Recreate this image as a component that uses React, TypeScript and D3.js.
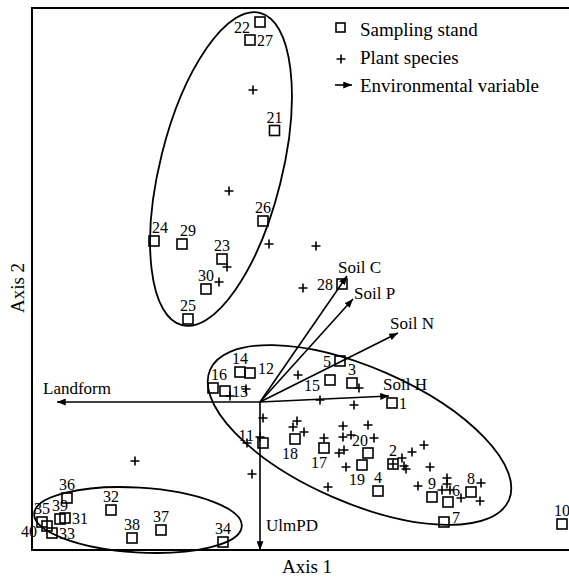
import React from 'react';
import * as d3 from 'd3';

// ---- data (CCA ordination scores) ----
const siteIds = [
  1, 2, 3, 4, 5, 6, 7, 8, 9, 10,
  11, 12, 13, 14, 15, 16, 17, 18, 19, 20,
  21, 22, 23, 24, 25, 26, 27, 28, 29, 30,
  31, 32, 33, 34, 35, 36, 37, 38, 39, 40,
];
const siteX = [
  1.32, 1.33, 0.92, 1.18, 0.80, 1.88, 1.84, 2.11, 1.72, 3.02,
  0.03, -0.10, -0.35, -0.20, 0.70, -0.47, 0.64, 0.35, 1.02, 1.08,
  0.145, 0.0, -0.38, -1.06, -0.72, 0.03, -0.10, 0.82, -0.78, -0.54,
  -1.95, -1.49, -2.08, -0.37, -2.18, -1.93, -0.99, -1.28, -2.0, -2.13,
];
const siteY = [
  -0.01, -0.62, 0.19, -0.89, 0.41, -1.0, -1.2, -0.9, -0.95, -1.22,
  -0.41, 0.29, 0.11, 0.30, 0.22, 0.14, -0.46, -0.37, -0.63, -0.51,
  2.715, 3.80, 1.43, 1.61, 0.83, 1.81, 3.62, 1.18, 1.58, 1.13,
  -1.16, -1.08, -1.31, -1.40, -1.20, -0.96, -1.28, -1.36, -1.17, -1.24,
];
const siteLabelSide = [
  'r', 'a', 'a', 'a', 'l', 'ur', 'rh', 'a', 'a', 'a',
  'ul', 'rh', 'r', 'a', 'bl', 'ar', 'b', 'b', 'b', 'al',
  'a', 'bl', 'a', 'ar', 'a', 'a', 'r', 'l', 'ar', 'a',
  'r', 'a', 'r', 'a', 'a', 'a', 'a', 'a', 'a', 'bl',
];

const speciesX = [
  -0.07, -0.31, 0.09, 0.56, -0.33, -0.41, 0.43,
  0.38, -0.14, -0.30, 0.99, 0.60, 0.94, 0.03, 0.37, 0.33, 0.44, 0.0, -0.13,
  0.64, 0.83, 0.83, 0.91, 1.08, 1.14, 0.84, 0.79, 0.86, -0.08, 0.68,
  1.33, 1.42, 1.46, 1.44, 1.52, 1.64, 1.70, 1.58, 1.87, 1.87, 1.82, 1.90,
  2.01, 2.21, 2.20, -1.25,
];
const speciesY = [
  3.12, 2.11, 1.58, 1.56, 1.35, 1.20, 1.14,
  0.27, 0.13, 0.06, 0.14, 0.02, -0.03, -0.16, -0.19, -0.25, -0.30, -0.35, -0.41,
  -0.36, -0.24, -0.35, -0.33, -0.23, -0.36, -0.48, -0.51, -0.65, -0.72, -0.85,
  -0.62, -0.56, -0.67, -0.64, -0.50, -0.43, -0.65, -0.84, -0.76, -0.82, -0.88, -0.88,
  -0.96, -0.81, -0.99, -0.59,
];

const envNames = ['Landform', 'UlmPD', 'Soil C', 'Soil P', 'Soil N', 'Soil H'];
const envX = [-2.03, 0, 0.87, 0.93, 1.38, 1.29];
const envY = [0, -1.48, 1.26, 1.03, 0.69, 0.06];

// group ellipses (centre, semi-axes in axis units, rotation in degrees, counter-clockwise)
const groupCX = [-0.39, 0.995, -1.22];
const groupCY = [2.33, -0.33, -1.18];
const groupA = [1.61, 1.63, 1.04];
const groupB = [0.61, 0.675, 0.324];
const groupAngle = [76, -23.6, -3.5];

const legendItems = ['Sampling stand', 'Plant species', 'Environmental variable'];

// ---- layout ----
const W = 569;
const H = 577;
const FONT = '"Liberation Serif", "Times New Roman", serif';

const x = d3.scaleLinear().domain([-2.28, 3.09]).range([32, 569]);
const y = d3.scaleLinear().domain([-1.48, 3.94]).range([550, 8]);

const labelOffset: Record<string, { dx: number; dy: number; anchor: string }> = {
  a: { dx: 0, dy: -8, anchor: 'middle' },
  ar: { dx: 6, dy: -8, anchor: 'middle' },
  al: { dx: -8, dy: -7, anchor: 'middle' },
  r: { dx: 7, dy: 6, anchor: 'start' },
  rh: { dx: 8, dy: 1, anchor: 'start' },
  ur: { dx: 4, dy: -6, anchor: 'start' },
  l: { dx: -9, dy: 6, anchor: 'end' },
  ul: { dx: -9, dy: -2, anchor: 'end' },
  bl: { dx: -10, dy: 11, anchor: 'end' },
  b: { dx: -5, dy: 20, anchor: 'middle' },
};

const envLabelOffset: Record<string, [number, number]> = {
  Landform: [-14, -8],
  UlmPD: [6, -19],
  'Soil C': [-9, -3],
  'Soil P': [1, 0],
  'Soil N': [-8, -4],
  'Soil H': [-6, -6],
};

export default function App() {
  const x0 = x(0);
  const y0 = y(0);
  const sq = 10;
  const pl = 4.5;
  return (
    <svg
      width={W}
      height={H}
      viewBox={`0 0 ${W} ${H}`}
      style={{ position: 'absolute', left: 0, top: 0, background: '#fff' }}
      fontFamily={FONT}
    >
      <defs>
        <marker
          id="ah"
          markerUnits="userSpaceOnUse"
          viewBox="0 0 10 8"
          refX={10}
          refY={4}
          markerWidth={9}
          markerHeight={7}
          orient="auto"
        >
          <path d="M0,0 L10,4 L0,8 Z" fill="#000" />
        </marker>
      </defs>
      <rect x={0} y={0} width={W} height={H} fill="#fff" />

      {/* frame */}
      <path d={`M${W},8 H32 V550 H${W}`} fill="none" stroke="#000" strokeWidth={2} />

      {/* ellipses */}
      {groupCX.map((cx, i) => (
        <ellipse
          key={`e${i}`}
          cx={x(cx)}
          cy={y(groupCY[i])}
          rx={x(groupA[i]) - x(0)}
          ry={x(groupB[i]) - x(0)}
          transform={`rotate(${-groupAngle[i]} ${x(cx)} ${y(groupCY[i])})`}
          fill="none"
          stroke="#000"
          strokeWidth={1.8}
        />
      ))}

      {/* environmental arrows */}
      {envNames.map((n, i) => (
        <g key={n}>
          <line
            x1={x0}
            y1={y0}
            x2={x(envX[i])}
            y2={y(envY[i])}
            stroke="#000"
            strokeWidth={1.6}
            markerEnd="url(#ah)"
          />
          <text
            x={x(envX[i]) + envLabelOffset[n][0]}
            y={y(envY[i]) + envLabelOffset[n][1]}
            fontSize={17}
          >
            {n}
          </text>
        </g>
      ))}

      {/* species */}
      {speciesX.map((sx, i) => {
        const px = x(sx);
        const py = y(speciesY[i]);
        return (
          <path
            key={`s${i}`}
            d={`M${px - pl},${py} H${px + pl} M${px},${py - pl} V${py + pl}`}
            stroke="#000"
            strokeWidth={1.6}
          />
        );
      })}

      {/* sites */}
      {siteIds.map((id, i) => {
        const px = x(siteX[i]);
        const py = y(siteY[i]);
        const o = labelOffset[siteLabelSide[i]];
        return (
          <g key={`p${id}`}>
            <rect
              x={px - sq / 2}
              y={py - sq / 2}
              width={sq}
              height={sq}
              fill="none"
              stroke="#000"
              strokeWidth={1.6}
            />
            <text x={px + o.dx} y={py + o.dy} fontSize={16} textAnchor={o.anchor}>
              {id}
            </text>
          </g>
        );
      })}

      {/* legend */}
      <g>
        <rect x={336} y={23} width={9} height={9} fill="none" stroke="#000" strokeWidth={1.6} />
        <path d="M336.5,59 H345.5 M341,54.5 V63.5" stroke="#000" strokeWidth={1.6} />
        <line x1={335} y1={85} x2={352} y2={85} stroke="#000" strokeWidth={1.6} markerEnd="url(#ah)" />
        {legendItems.map((t, i) => (
          <text key={t} x={360} y={36 + i * 28} fontSize={19}>
            {t}
          </text>
        ))}
      </g>

      {/* axis titles */}
      <text x={307} y={573} fontSize={19} textAnchor="middle">
        Axis 1
      </text>
      <text
        x={0}
        y={0}
        fontSize={19}
        textAnchor="middle"
        transform={`translate(24,288) rotate(-90)`}
      >
        Axis 2
      </text>
    </svg>
  );
}
